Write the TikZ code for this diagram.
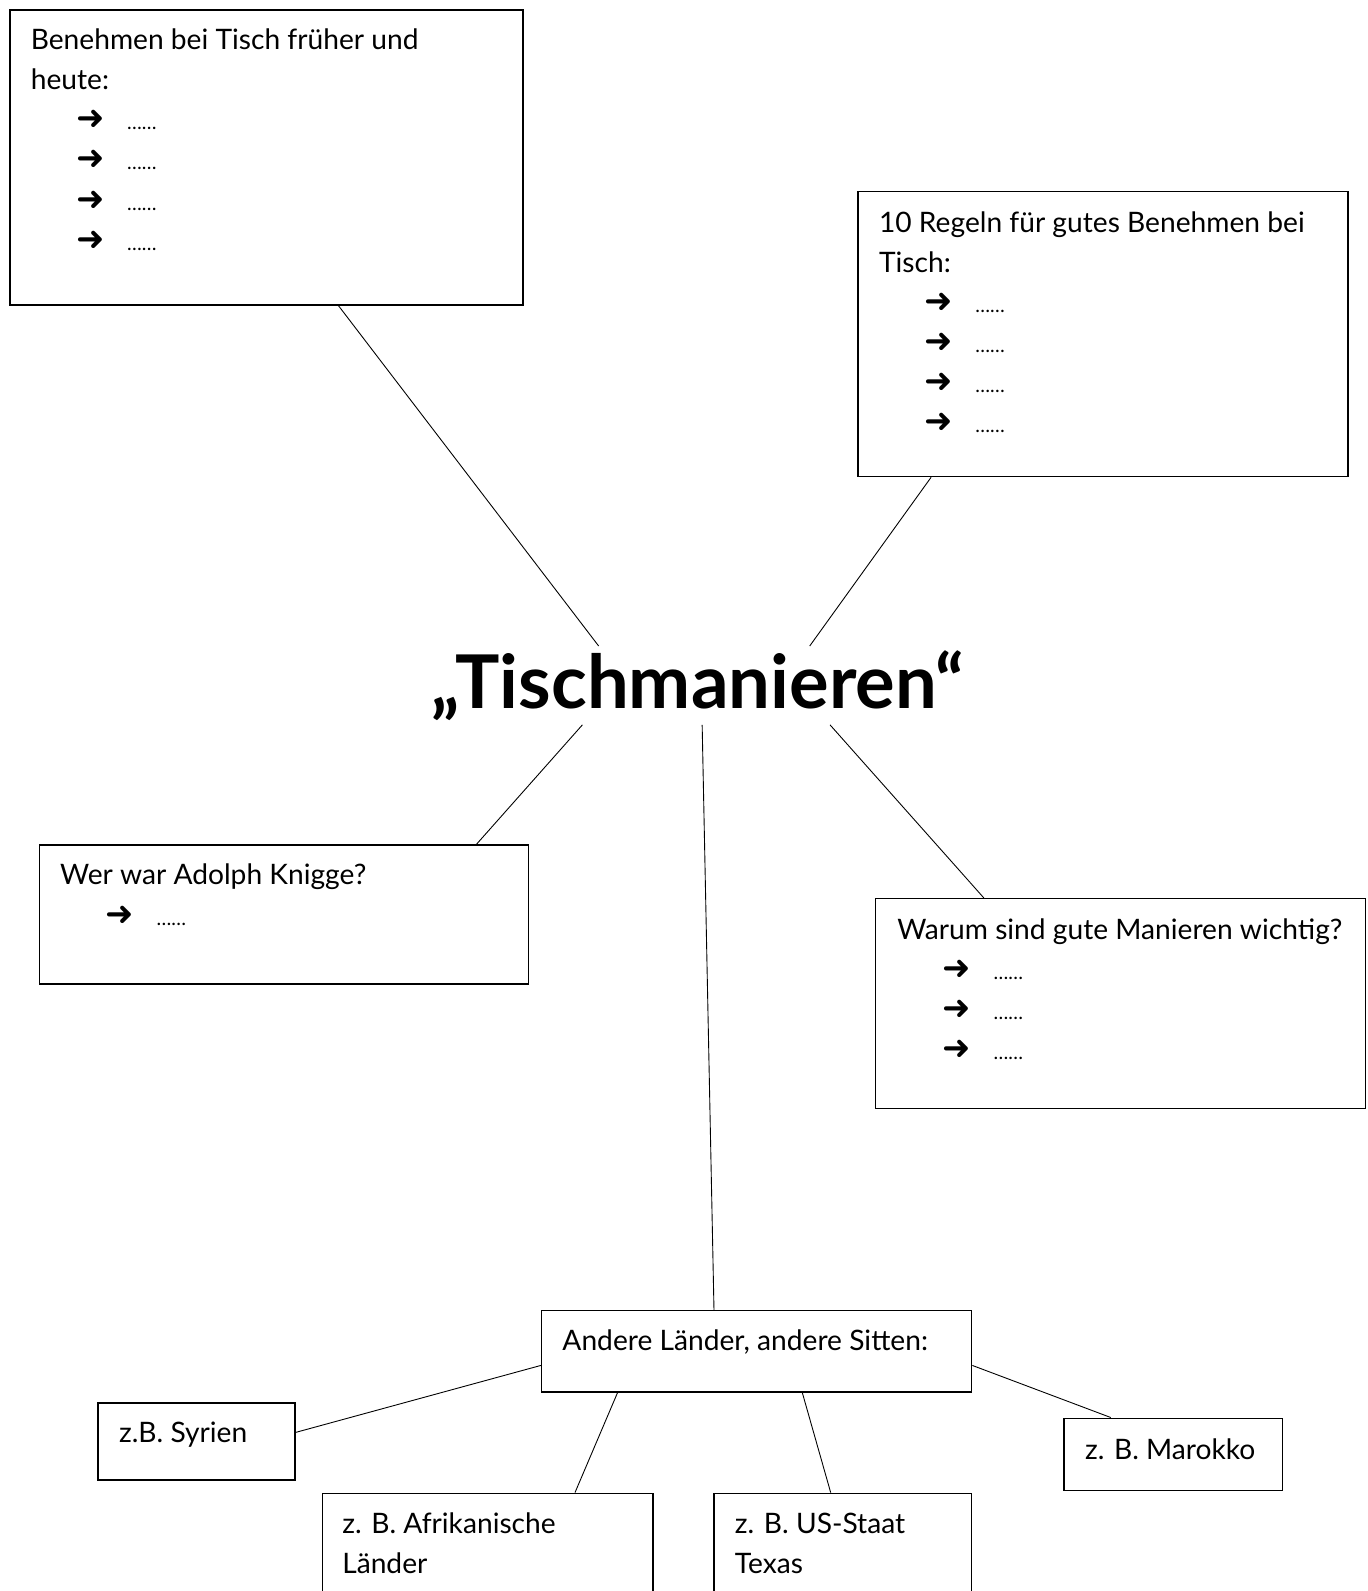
\documentclass[tikz,border=0pt]{standalone}
\usepackage{fontspec}
\setmainfont{Lato}
\newfontfamily\pfeilfont{DejaVu Sans}
\usetikzlibrary{calc}

\newcommand{\pfeilzeile}{\hspace*{0.9cm}\makebox[1.0cm][l]{\pfeilfont\fontsize{19}{19}\selectfont ➜}{\fontsize{11}{11}\selectfont ……}}

\begin{document}
\begin{tikzpicture}[x=0.02cm, y=-0.02cm,
    kasten/.style={draw, line width=0.8pt, inner sep=0pt, anchor=north west},
    zeile/.style={anchor=base west, inner sep=0pt, font=\fontsize{15.8}{15.8}\selectfont},
    verbindung/.style={line width=0.5pt}]
    \useasboundingbox (0,0) rectangle (1348,1568);
    \clip (0,0) rectangle (1348,1568);

    % Titel
    \node[inner sep=0pt, text height=1.22cm, text depth=0.32cm, anchor=base,
          font=\fontsize{41.6}{41.6}\selectfont\bfseries] (titel) at (688,698) {„Tischmanieren“};

    % Kaesten
    \node[kasten, minimum width=10.12cm, minimum height=5.82cm] (frueher) at (9,9) {};
    \node[kasten, minimum width=9.66cm, minimum height=5.62cm] (regeln) at (845,188) {};
    \node[kasten, minimum width=9.64cm, minimum height=2.74cm] (knigge) at (38,832) {};
    \node[kasten, minimum width=9.66cm, minimum height=4.14cm] (warum) at (862,885) {};
    \node[kasten, minimum width=8.48cm, minimum height=1.6cm] (laender) at (533,1291) {};
    \node[kasten, minimum width=3.88cm, minimum height=1.52cm] (syrien) at (96,1382) {};
    \node[kasten, minimum width=6.52cm, minimum height=2.98cm] (afrika) at (317,1471) {};
    \node[kasten, minimum width=5.08cm, minimum height=2.98cm] (texas) at (703,1471) {};
    \node[kasten, minimum width=4.3cm, minimum height=1.42cm] (marokko) at (1048,1397) {};

    % Texte
    \foreach \txt [count=\i from 0] in {Benehmen bei Tisch früher und, heute:}
        \node[zeile] (frueher-t\i) at ($(frueher.north west)+(21,40+39.5*\i)$) {\txt};
    \foreach \i in {2,...,5}
        \node[zeile] (frueher-p\i) at ($(frueher.north west)+(21,40+39.5*\i)$) {\pfeilzeile};

    \foreach \txt [count=\i from 0] in {10 Regeln für gutes Benehmen bei, Tisch:}
        \node[zeile] (regeln-t\i) at ($(regeln.north west)+(21,41+39.5*\i)$) {\txt};
    \foreach \i in {2,...,5}
        \node[zeile] (regeln-p\i) at ($(regeln.north west)+(21,41+39.5*\i)$) {\pfeilzeile};

    \node[zeile] (knigge-t0) at ($(knigge.north west)+(21,40)$) {Wer war Adolph Knigge?};
    \node[zeile] (knigge-p1) at ($(knigge.north west)+(21,80)$) {\pfeilzeile};

    \node[zeile] (warum-t0) at ($(warum.north west)+(22,41)$) {Warum sind gute Manieren wichtig?};
    \foreach \i in {1,2,3}
        \node[zeile] (warum-p\i) at ($(warum.north west)+(22,41+39.5*\i)$) {\pfeilzeile};

    \node[zeile] (laender-t0) at ($(laender.north west)+(21,40)$) {Andere Länder, andere Sitten:};
    \node[zeile] (syrien-t0) at ($(syrien.north west)+(21,40)$) {z.B. Syrien};
    \node[zeile] (afrika-t0) at ($(afrika.north west)+(20,40)$) {z. B. Afrikanische};
    \node[zeile] (afrika-t1) at ($(afrika.north west)+(20,80)$) {Länder};
    \node[zeile] (texas-t0) at ($(texas.north west)+(21,40)$) {z. B. US-Staat};
    \node[zeile] (texas-t1) at ($(texas.north west)+(21,80)$) {Texas};
    \node[zeile] (marokko-t0) at ($(marokko.north west)+(21,41)$) {z. B. Marokko};

    % Verbindungen
    \draw[verbindung] ($(frueher.south)+(71,0)$) -- ($(titel.north)+(-98,0)$);
    \draw[verbindung] ($(regeln.south)+(-169.5,0)$) -- ($(titel.north)+(110,0)$);
    \draw[verbindung] ($(knigge.north)+(190,0)$) -- ($(titel.south)+(-114,0)$);
    \draw[verbindung] ($(warum.north)+(-134.5,0)$) -- ($(titel.south)+(130,0)$);
    \draw[verbindung] ($(laender.north)+(-42,0)$) -- ($(titel.south)+(4,0)$);
    \draw[verbindung] ($(laender.west)+(0,14)$) -- ($(syrien.east)+(0,-9)$);
    \draw[verbindung] ($(laender.south)+(-137,0)$) -- ($(afrika.north)+(86,0)$);
    \draw[verbindung] ($(laender.south)+(45,0)$) -- ($(texas.north)+(-12,0)$);
    \draw[verbindung] ($(laender.east)+(0,14)$) -- ($(marokko.north)+(-61.5,0)$);
\end{tikzpicture}
\end{document}
